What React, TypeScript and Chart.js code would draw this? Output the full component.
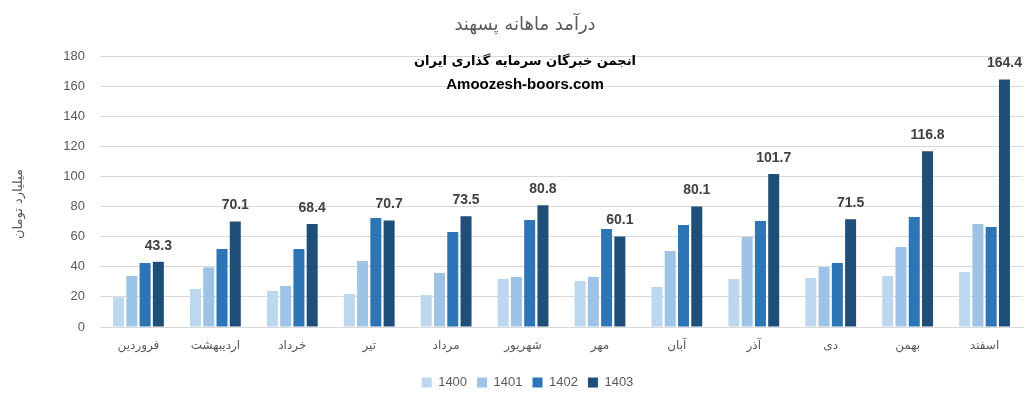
import React, { useEffect, useRef } from "react";
import { Chart, registerables } from "chart.js";

Chart.register(...registerables);

const months = ["فروردین", "اردیبهشت", "خرداد", "تیر", "مرداد", "شهریور", "مهر", "آبان", "آذر", "دی", "بهمن", "اسفند"];
const years = ["1400", "1401", "1402", "1403"];
const s1400 = [19.8, 25.2, 23.9, 21.9, 21.2, 31.9, 30.5, 26.6, 31.9, 32.5, 33.9, 36.5];
const s1401 = [33.9, 39.6, 27.2, 43.8, 35.9, 33.2, 33.2, 50.5, 59.8, 39.8, 53.1, 68.4];
const s1402 = [42.5, 51.8, 51.8, 72.4, 63.1, 71.1, 65.1, 67.7, 70.4, 42.5, 73.0, 66.4];
const s1403 = [43.3, 70.1, 68.4, 70.7, 73.5, 80.8, 60.1, 80.1, 101.7, 71.5, 116.8, 164.4];
const colors = ["#BDD7EE", "#9DC3E6", "#2E75B6", "#1F4E79"];
const mainTitle = "درآمد ماهانه پسهند";
const subTitle1 = "انجمن خبرگان سرمایه گذاری ایران";
const subTitle2 = "Amoozesh-boors.com";
const yTitle = "میلیارد تومان";

const overlayPlugin = {
  id: "overlay",
  afterLayout(chart: any) {
    if (chart.legend) {
      chart.legend.left += 16;
      chart.legend.right += 16;
    }
  },
  afterDatasetsDraw(chart: any) {
    const ctx = chart.ctx;
    const meta = chart.getDatasetMeta(3);
    ctx.save();
    ctx.fillStyle = "#404040";
    ctx.font = "bold 14px 'Liberation Sans', Arial, sans-serif";
    ctx.textAlign = "center";
    ctx.textBaseline = "middle";
    meta.data.forEach((bar: any, i: number) => {
      ctx.fillText(String(s1403[i]), bar.x, bar.y - 16);
    });
    ctx.restore();
  },
  afterDraw(chart: any) {
    const ctx = chart.ctx;
    ctx.save();
    ctx.textAlign = "center";
    ctx.textBaseline = "middle";
    ctx.fillStyle = "#595959";
    ctx.font = "18px 'DejaVu Sans', sans-serif";
    ctx.fillText(mainTitle, 525, 25);
    ctx.fillStyle = "#000000";
    ctx.font = "bold 13px 'DejaVu Sans', sans-serif";
    ctx.fillText(subTitle1, 525, 62);
    ctx.font = "bold 15px 'Liberation Sans', Arial, sans-serif";
    ctx.fillText(subTitle2, 525, 85);
    ctx.translate(19, 204);
    ctx.rotate(-Math.PI / 2);
    ctx.fillStyle = "#595959";
    ctx.font = "13px 'DejaVu Sans', sans-serif";
    ctx.fillText(yTitle, 0, 0);
    ctx.restore();
  },
};

export default function App() {
  const ref = useRef<HTMLCanvasElement>(null);
  useEffect(() => {
    document.body.style.margin = "0";
    const series = [s1400, s1401, s1402, s1403];
    const chart = new Chart(ref.current!, {
      type: "bar",
      data: {
        labels: months,
        datasets: years.map((y, i) => ({
          label: y,
          data: series[i],
          backgroundColor: colors[i],
          categoryPercentage: 0.69,
          barPercentage: 0.83,
        })),
      },
      options: {
        animation: false,
        responsive: false,
        layout: { padding: { top: 56, right: 8, bottom: 4, left: 0 } },
        plugins: {
          legend: {
            position: "bottom",
            labels: {
              boxWidth: 10,
              boxHeight: 10,
              color: "#595959",
              font: { size: 13, family: "'Liberation Sans', Arial, sans-serif" },
              padding: 10,
            },
          },
          tooltip: { enabled: false },
        },
        scales: {
          x: {
            grid: { display: false },
            border: { display: true, color: "#d9d9d9" },
            ticks: {
              color: "#595959",
              font: { size: 12, family: "'DejaVu Sans', sans-serif" },
              maxRotation: 0,
              padding: 4,
            },
            afterFit(scale: any) {
              scale.height = 39;
            },
          },
          y: {
            min: 0,
            max: 180,
            ticks: {
              stepSize: 20,
              color: "#595959",
              font: { size: 13, family: "'Liberation Sans', Arial, sans-serif" },
              padding: 15,
            },
            grid: { color: "#d9d9d9", drawTicks: false },
            border: { display: false },
            afterFit(scale: any) {
              scale.width = 100;
            },
          },
        },
      },
      plugins: [overlayPlugin],
    });
    return () => chart.destroy();
  }, []);
  return <canvas ref={ref} width={1031} height={403} style={{ display: "block" }} />;
}
